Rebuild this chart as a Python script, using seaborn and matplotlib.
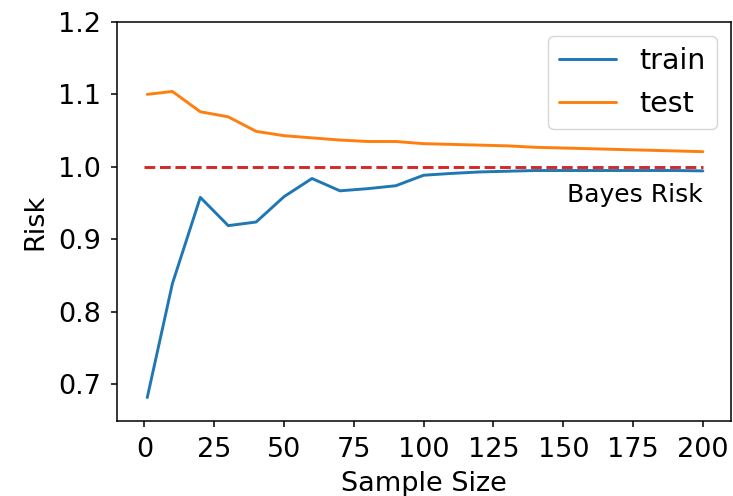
import pandas as pd
import seaborn as sns
import matplotlib.pyplot as plt

sample_size = [1, 10, 20, 30, 40, 50, 60, 70, 80, 90, 100,
               110, 120, 130, 140, 150, 160, 170, 180, 190, 200]
train_risk = [0.682, 0.839, 0.958, 0.919, 0.924, 0.959, 0.984, 0.967, 0.970, 0.974, 0.9885,
              0.991, 0.993, 0.994, 0.995, 0.995, 0.995, 0.995, 0.995, 0.995, 0.9945]
test_risk = [1.100, 1.104, 1.076, 1.069, 1.049, 1.043, 1.040, 1.037, 1.035, 1.035, 1.032,
             1.031, 1.030, 1.029, 1.027, 1.026, 1.025, 1.024, 1.023, 1.022, 1.021]
bayes_risk = 1.0

if __name__ == '__main__':
    sns.set_style('ticks', rc={
        'text.color': 'black',
        'axes.labelcolor': 'black',
        'axes.edgecolor': 'black',
        'xtick.color': 'black',
        'ytick.color': 'black',
    })
    plt.rcParams['font.family'] = ['DejaVu Sans']
    fs = 19.5

    df = pd.concat([
        pd.DataFrame({'Sample Size': sample_size, 'Risk': train_risk, 'set': 'train'}),
        pd.DataFrame({'Sample Size': sample_size, 'Risk': test_risk, 'set': 'test'}),
    ])

    fig, ax = plt.subplots(figsize=(7.33, 4.96), dpi=100)
    fig.subplots_adjust(left=0.159, right=0.997, top=0.956, bottom=0.151)

    sns.lineplot(
        data=df,
        x='Sample Size',
        y='Risk',
        hue='set',
        palette=['#1f77b4', '#ff7f0e'],
        linewidth=2.1,
        ax=ax,
    )
    ax.hlines(bayes_risk, 0, max(sample_size), colors='#d62728',
              linestyles='dashed', linewidth=2.1)
    ax.text(max(sample_size), 0.951, 'Bayes Risk', ha='right', va='baseline', fontsize=18)

    ax.set_xlim(-10, 210)
    ax.set_ylim(0.6495, 1.2)
    ax.set_xticks(range(0, 201, 25))
    ax.set_yticks([0.7, 0.8, 0.9, 1.0, 1.1, 1.2])
    ax.tick_params(labelsize=fs, length=4.3, width=1.1, pad=7)
    for s in ax.spines.values():
        s.set_linewidth(1.1)
    ax.set_xlabel('Sample Size', fontsize=fs, labelpad=6)
    ax.set_ylabel('Risk', fontsize=fs, labelpad=7)
    ax.legend(title=None, fontsize=20.5, loc='upper right')

    plt.savefig('out.png', dpi=100)
    plt.close()
